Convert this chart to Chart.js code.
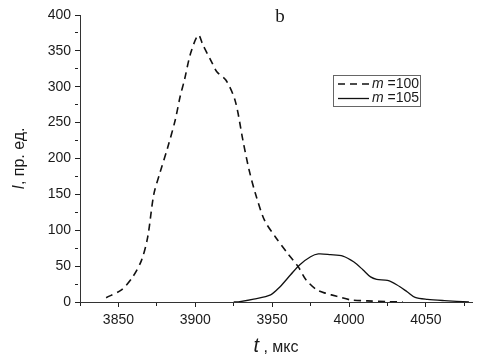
<!DOCTYPE html>
<html>
<head>
<meta charset="utf-8">
<script src="https://cdn.jsdelivr.net/npm/chart.js"></script>
<style>
  body { margin:0; background:#fff; }
  #wrap { width:482px; height:360px; }
</style>
</head>
<body>
<div id="wrap"><canvas id="chart" width="482" height="360"></canvas></div>
<script>
// m = 100 (dashed)
const t100 = [3842, 3852, 3859, 3865, 3869, 3873, 3877, 3882, 3887, 3890, 3893, 3897, 3902, 3905, 3911, 3914, 3920, 3926, 3931, 3935, 3939, 3945, 3952, 3960, 3967, 3972, 3979, 3985, 3992, 4001, 4012, 4025, 4035];
const i100 = [6, 17, 34, 58, 90, 150, 180, 215, 254, 285, 310, 347, 372, 358, 333, 321, 309, 280, 225, 184, 152, 114, 91, 68, 49, 31, 17, 12, 8, 3, 1.5, 0.5, 0];
// m = 105 (solid)
const t105 = [3925, 3929, 3938, 3949, 3955, 3962, 3968, 3975, 3980, 3988, 3996, 4003, 4009, 4014, 4018, 4025, 4031, 4038, 4043, 4051, 4062, 4078];
const i105 = [0, 0.5, 4, 10, 21, 38, 52, 63, 67, 66, 64, 56, 45, 35, 31.6, 30, 24, 14, 6.5, 3.7, 1.9, 0];

const xTicks = [3825, 3850, 3875, 3900, 3925, 3950, 3975, 4000, 4025, 4050, 4075];
const yTicks = [0, 25, 50, 75, 100, 125, 150, 175, 200, 225, 250, 275, 300, 325, 350, 375, 400];
const seriesNames = ['100', '105'];

const FONT = "'Liberation Sans', Arial, sans-serif";
const INK = '#1a1a1a';

const extras = {
  id: 'extras',
  afterDraw(chart) {
    const ctx = chart.ctx;
    const ca = chart.chartArea;
    ctx.save();
    ctx.fillStyle = INK;
    ctx.textBaseline = 'alphabetic';
    // x axis title: "t , мкс"
    ctx.font = 'italic 20px ' + FONT;
    const tw = ctx.measureText('t').width;
    ctx.font = '16px ' + FONT;
    const rest = ' , мкс';
    const rw = ctx.measureText(rest).width;
    let sx = (ca.left + ca.right) / 2 - (tw + rw) / 2;
    ctx.font = 'italic 20px ' + FONT;
    ctx.fillText('t', sx, 352);
    ctx.font = '16px ' + FONT;
    ctx.fillText(rest, sx + tw, 352);

    // y axis title: "I, пр. ед."
    ctx.save();
    ctx.translate(24, (ca.top + ca.bottom) / 2);
    ctx.rotate(-Math.PI / 2);
    ctx.font = 'italic 16px ' + FONT;
    const iw = ctx.measureText('I').width;
    ctx.font = '16px ' + FONT;
    const yr = ', пр. ед.';
    const yw = ctx.measureText(yr).width;
    let sy = -(iw + yw) / 2;
    ctx.font = 'italic 16px ' + FONT;
    ctx.fillText('I', sy, 0);
    ctx.font = '16px ' + FONT;
    ctx.fillText(yr, sy + iw, 0);
    ctx.restore();

    // panel label
    ctx.font = "19px 'Liberation Serif', 'Times New Roman', serif";
    ctx.textAlign = 'center';
    ctx.fillText('b', 280, 22);
    ctx.textAlign = 'left';

    // legend box
    const bx = 333, by = 75, bw = 87, bh = 31;
    ctx.strokeStyle = '#666';
    ctx.lineWidth = 1;
    ctx.strokeRect(bx + 0.5, by + 0.5, bw, bh);
    chart.data.datasets.forEach((ds, k) => {
      const ry = by + 9 + k * 14.5;
      ctx.save();
      ctx.strokeStyle = ds.borderColor;
      ctx.lineWidth = ds.borderWidth;
      ctx.setLineDash(ds.borderDash || []);
      ctx.beginPath(); ctx.moveTo(bx + 5, ry); ctx.lineTo(bx + 36, ry); ctx.stroke();
      ctx.restore();
      ctx.fillStyle = INK;
      ctx.textBaseline = 'middle';
      ctx.font = 'italic 14px ' + FONT;
      ctx.fillText('m', bx + 39, ry);
      const mw = ctx.measureText('m').width;
      ctx.font = '14px ' + FONT;
      ctx.fillText(' =' + seriesNames[k], bx + 39 + mw, ry);
    });
    ctx.restore();
  }
};

// tick marks only (no grid); minor ticks shortened with a dash pattern
const isMajor = c => c.tick && c.tick.value % 50 === 0;
const tickGrid = {
  display: true, drawOnChartArea: false, drawTicks: true, tickLength: 5,
  color: '#222', tickColor: '#222', lineWidth: 1, tickWidth: 1,
  tickBorderDash: c => (isMajor(c) ? [] : [3, 10])
};

new Chart(document.getElementById('chart').getContext('2d'), {
  type: 'line',
  data: {
    datasets: [
      { label: 'm =100', data: t100.map((t, i) => ({ x: t, y: i100[i] })),
        borderColor: '#111', borderWidth: 1.6, borderDash: [7, 5], pointRadius: 0, tension: 0.3, fill: false },
      { label: 'm =105', data: t105.map((t, i) => ({ x: t, y: i105[i] })),
        borderColor: '#111', borderWidth: 1.3, pointRadius: 0, tension: 0.3, fill: false }
    ]
  },
  plugins: [extras],
  options: {
    responsive: false,
    animation: false,
    devicePixelRatio: 1,
    layout: { padding: { top: 15, right: 10, left: 0, bottom: 0 } },
    plugins: { legend: { display: false }, tooltip: { enabled: false } },
    scales: {
      x: {
        type: 'linear', min: 3825, max: 4080,
        afterBuildTicks: s => { s.ticks = xTicks.map(v => ({ value: v })); },
        afterFit: s => { s.height = 58; },
        grid: tickGrid,
        border: { display: true, color: '#333', width: 1 },
        ticks: { autoSkip: false, maxRotation: 0, padding: 5, color: INK,
                 font: { family: FONT, size: 14 },
                 callback: v => (v % 50 === 0 ? String(v) : '') }
      },
      y: {
        min: 0, max: 400,
        afterBuildTicks: s => { s.ticks = yTicks.map(v => ({ value: v })); },
        afterFit: s => { s.width = 80; },
        grid: tickGrid,
        border: { display: true, color: '#333', width: 1 },
        ticks: { autoSkip: false, padding: 4, color: INK,
                 font: { family: FONT, size: 14 },
                 callback: v => (v % 50 === 0 ? String(v) : '') }
      }
    }
  }
});
</script>
</body>
</html>
